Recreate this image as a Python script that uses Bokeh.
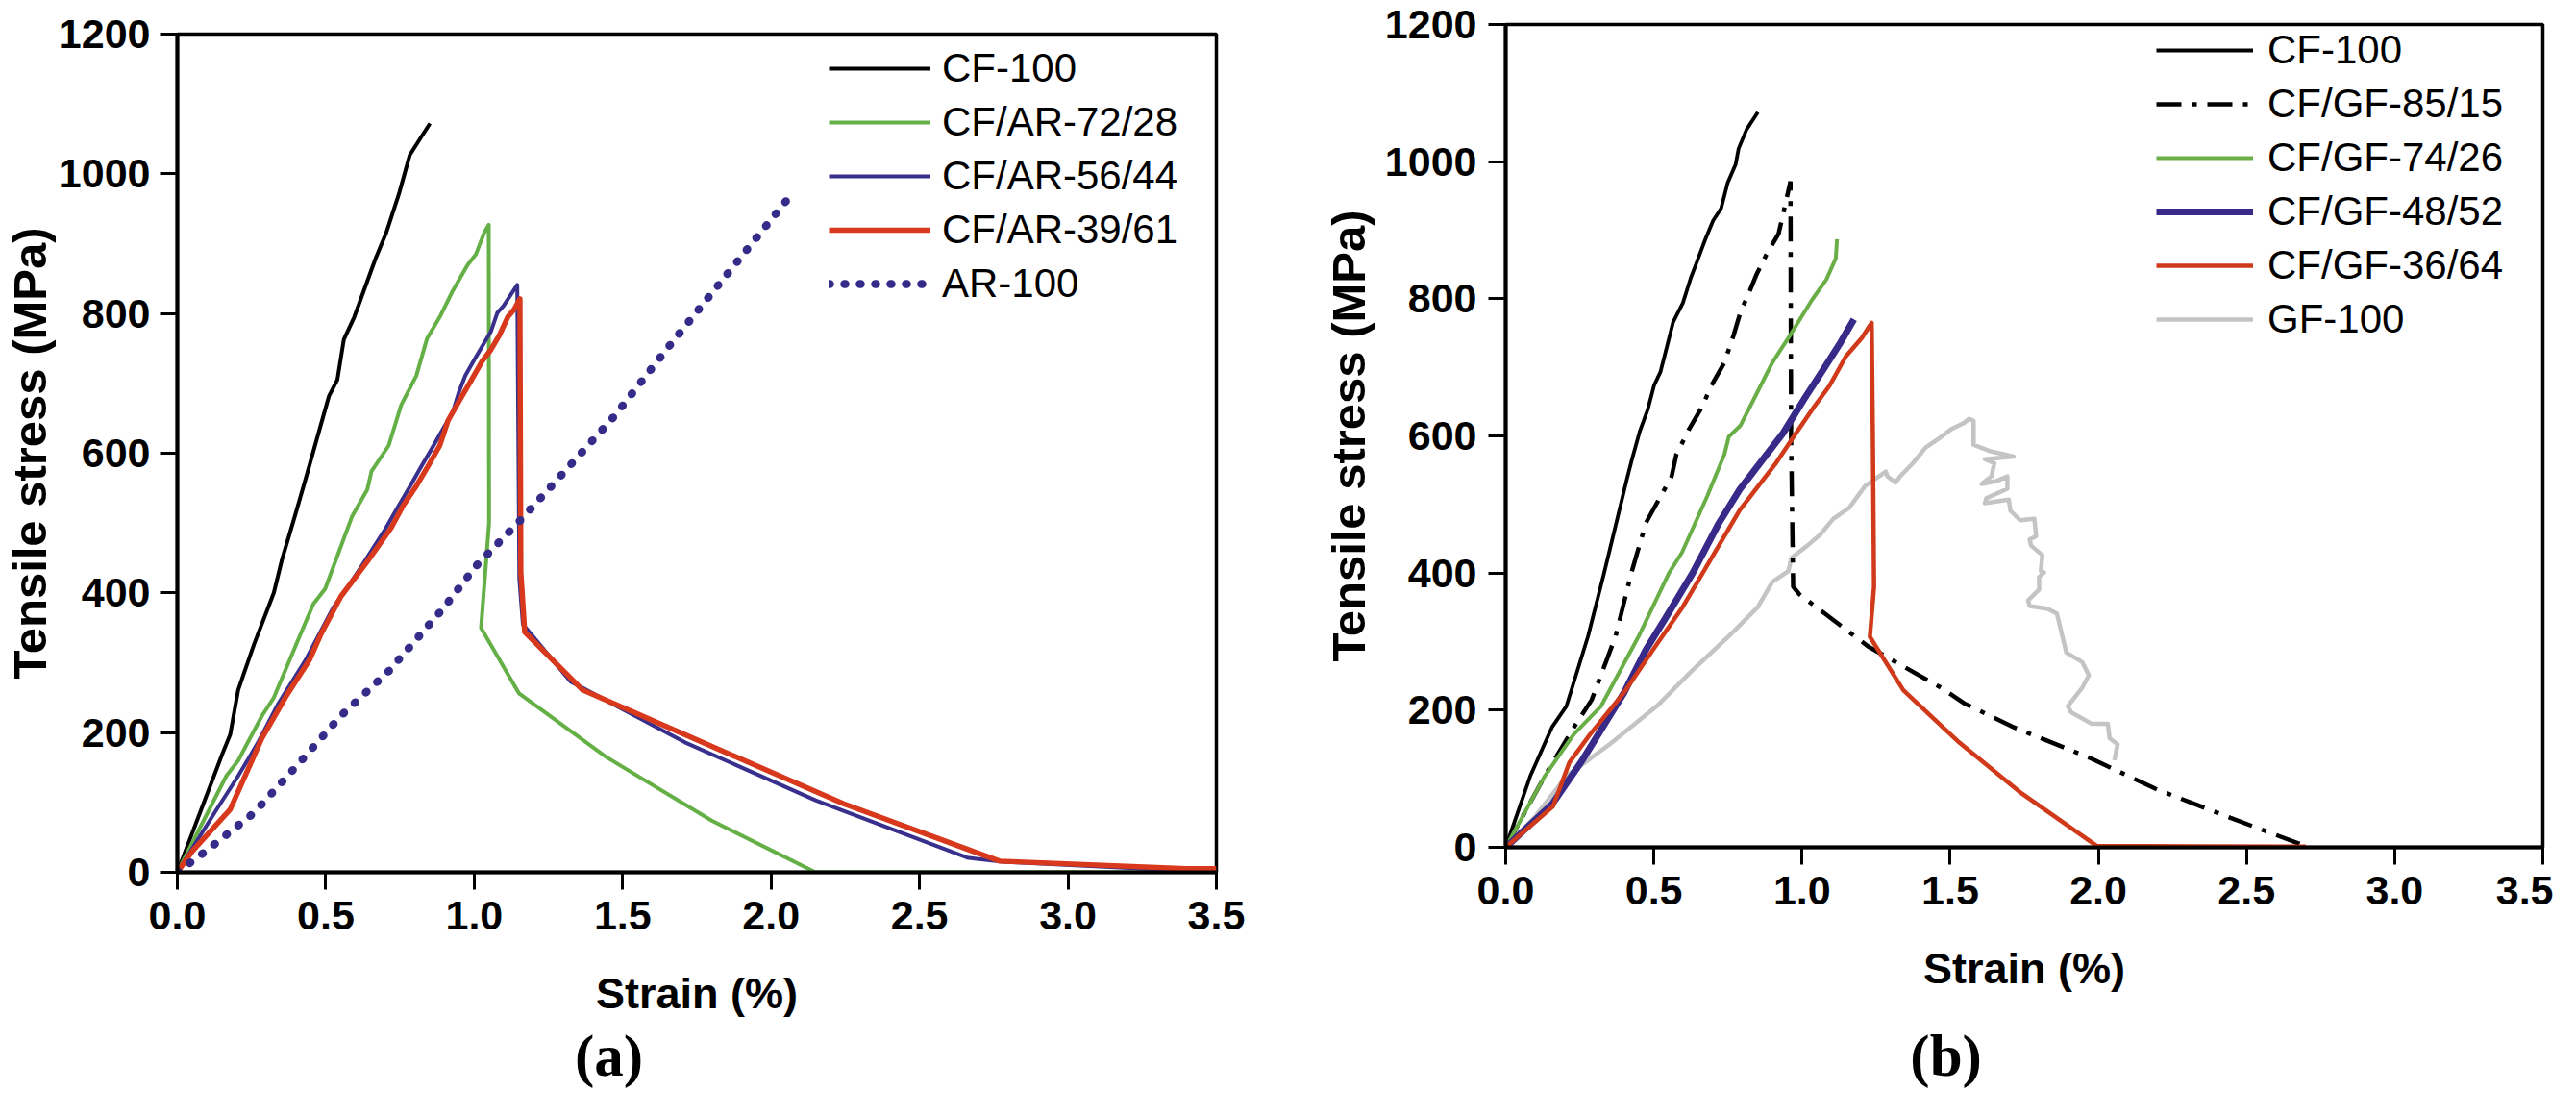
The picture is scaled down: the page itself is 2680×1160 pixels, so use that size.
from bokeh.plotting import figure
from bokeh.models import Range1d, FixedTicker, PrintfTickFormatter, Legend, LegendItem, LinearAxis
from bokeh.layouts import row
from bokeh.embed import file_html
from bokeh.resources import INLINE

# ---------------- data: panel (a) ----------------
x_ticks = [0.0, 0.5, 1.0, 1.5, 2.0, 2.5, 3.0, 3.5]
y_ticks = [0, 200, 400, 600, 800, 1000, 1200]

a_labels = ["CF-100", "CF/AR-72/28", "CF/AR-56/44", "CF/AR-39/61", "AR-100"]

a_cf100_x = [0, 0.152, 0.178, 0.205, 0.258, 0.325, 0.352, 0.396, 0.432, 0.467, 0.511, 0.539, 0.561,
             0.596, 0.632, 0.668, 0.704, 0.747, 0.766, 0.783, 0.819, 0.851]
a_cf100_y = [0, 170, 197, 261, 326, 400, 447, 510, 563, 616, 682, 705, 763,
             795, 837, 879, 916, 972, 1001, 1027, 1051, 1072]

a_ar7228_x = [0, 0.165, 0.205, 0.285, 0.325, 0.405, 0.458, 0.498, 0.589, 0.640, 0.654, 0.712, 0.754,
              0.805, 0.841, 0.884, 0.927, 0.977, 1.006, 1.034, 1.049, 1.050, 1.023, 1.151, 1.445, 1.80,
              2.15, 3.5]
a_ar7228_y = [0, 138, 160, 224, 250, 331, 384, 406, 510, 548, 574, 611, 669,
              711, 764, 795, 832, 869, 885, 916, 927, 500, 350, 256, 165, 74,
              0, 0]

a_ar5644_x = [0, 0.125, 0.205, 0.272, 0.338, 0.432, 0.525, 0.578, 0.611, 0.697, 0.740, 0.783, 0.819,
              0.855, 0.898, 0.927, 0.948, 0.970, 0.998, 1.027, 1.056, 1.078, 1.099, 1.128, 1.145,
              1.152, 1.164, 1.325, 1.71, 2.15, 2.66, 2.78, 3.5]
a_ar5644_y = [0, 85, 138, 186, 240, 304, 379, 411, 432, 489, 521, 552, 579,
              605, 637, 658, 687, 711, 732, 753, 774, 801, 811, 830, 841,
              420, 355, 273, 186, 103, 21, 15, 0]

a_ar3961_x = [0, 0.05, 0.178, 0.285, 0.365, 0.445, 0.485, 0.551, 0.64, 0.72, 0.762, 0.805, 0.848,
              0.884, 0.912, 0.955, 0.984, 1.027, 1.056, 1.085, 1.113, 1.135, 1.154, 1.157, 1.17,
              1.365, 2.245, 2.77, 3.4, 3.5]
a_ar3961_y = [0, 30, 90, 192, 251, 304, 342, 395, 445, 493, 526, 553, 584,
              611, 647, 679, 700, 732, 748, 769, 795, 806, 821, 430, 344,
              261, 98, 16, 5, 5]

a_ar100_x = [0, 0.098, 0.258, 0.418, 0.551, 0.712, 0.898, 1.005, 1.151, 1.271, 1.472, 1.656, 2.06]
a_ar100_y = [0, 31, 85, 160, 224, 288, 379, 438, 502, 558, 653, 753, 966]

# ---------------- data: panel (b) ----------------
b_labels = ["CF-100", "CF/GF-85/15", "CF/GF-74/26", "CF/GF-48/52", "CF/GF-36/64", "GF-100"]

b_cf100_x = [0, 0.083, 0.156, 0.205, 0.278, 0.332, 0.409, 0.425, 0.452, 0.479, 0.501, 0.522, 0.544,
             0.565, 0.598, 0.625, 0.641, 0.673, 0.700, 0.727, 0.749, 0.776, 0.786, 0.813, 0.851]
b_cf100_y = [0, 104, 175, 206, 308, 400, 537, 564, 606, 638, 674, 693, 730,
             766, 794, 831, 849, 886, 914, 932, 969, 996, 1019, 1047, 1072]

b_8515_x = [0, 0.132, 0.23, 0.29, 0.371, 0.424, 0.473, 0.560, 0.576, 0.619, 0.662, 0.695, 0.738,
            0.770, 0.792, 0.824, 0.846, 0.878, 0.921, 0.961, 0.963, 0.970, 0.991, 1.223, 1.472,
            1.547, 1.715, 1.968, 2.20, 2.446, 2.71]
b_8515_y = [0, 104, 175, 215, 308, 400, 473, 541, 573, 610, 642, 674, 707,
            748, 780, 812, 835, 863, 895, 971, 600, 380, 369, 293, 232,
            210, 175, 131, 84, 43, 0]

b_7426_x = [0, 0.132, 0.230, 0.322, 0.449, 0.551, 0.595, 0.680, 0.738, 0.753, 0.792, 0.846, 0.900,
            0.960, 1.033, 1.082, 1.114, 1.118]
b_7426_y = [0, 104, 165, 206, 308, 400, 430, 512, 573, 599, 615, 661, 707,
            747, 798, 828, 859, 887]

b_4852_x = [0, 0.157, 0.254, 0.327, 0.400, 0.473, 0.546, 0.631, 0.717, 0.790, 0.863, 0.936, 1.009,
            1.072, 1.131, 1.175]
b_4852_y = [0, 63, 124, 175, 226, 288, 339, 400, 471, 522, 563, 604, 655,
            697, 737, 770]

b_3664_x = [0, 0.16, 0.215, 0.285, 0.400, 0.497, 0.595, 0.692, 0.790, 0.910, 0.975, 1.040, 1.094,
            1.148, 1.202, 1.235, 1.239, 1.243, 1.229, 1.342, 1.525, 1.74, 1.995, 2.7]
b_3664_y = [0, 60, 124, 165, 226, 288, 349, 420, 492, 559, 601, 642, 674,
            716, 743, 765, 600, 380, 307, 229, 155, 79, 2, 1]

b_gf100_x = [0, 0.1, 0.205, 0.35, 0.51, 0.63, 0.753, 0.85, 0.900, 0.954, 0.964, 1.018, 1.061, 1.105,
             1.159, 1.213, 1.283, 1.288, 1.315, 1.331, 1.374, 1.417, 1.461, 1.504, 1.547, 1.563,
             1.579, 1.579, 1.633, 1.714, 1.617, 1.649, 1.639, 1.606, 1.655, 1.693, 1.693, 1.622,
             1.617, 1.698, 1.703, 1.736, 1.784, 1.790, 1.768, 1.773, 1.811, 1.806, 1.817, 1.800,
             1.800, 1.763, 1.768, 1.827, 1.860, 1.892, 1.946, 1.968, 1.946, 1.897, 1.908, 1.978,
             2.032, 2.038, 2.065, 2.054]
b_gf100_y = [0, 45, 104, 150, 206, 258, 308, 350, 387, 403, 422, 440, 456, 479,
             495, 527, 548, 541, 532, 541, 560, 583, 596, 610, 619, 625,
             622, 587, 578, 570, 566, 560, 541, 530, 534, 541, 523, 509,
             502, 507, 491, 477, 479, 454, 449, 440, 426, 403, 401, 394,
             376, 360, 352, 348, 341, 284, 270, 251, 233, 206, 197, 180,
             180, 159, 150, 127]

FONT = "Liberation Sans"
FIG_H = 1144


def make_fig(width, bl, br, bt, bb, caption, cap_range_end, cap_standoff, tick_standoff,
             title_standoff):
    p = figure(width=width, height=FIG_H, x_range=Range1d(0, 3.5), y_range=Range1d(0, 1200),
               output_backend="svg", toolbar_location=None,
               min_border_left=bl, min_border_right=br, min_border_top=bt, min_border_bottom=bb)
    if "frame_align" in p.properties():
        p.frame_align = False
    p.grid.visible = False
    p.background_fill_color = "white"
    p.border_fill_color = "white"
    p.outline_line_color = "black"
    p.outline_line_width = 3.5
    p.outline_line_alpha = 1.0

    p.xaxis.ticker = FixedTicker(ticks=x_ticks)
    p.xaxis.formatter = PrintfTickFormatter(format="%.1f")
    p.yaxis.ticker = FixedTicker(ticks=y_ticks)
    p.yaxis.formatter = PrintfTickFormatter(format="%d")
    for ax in (p.xaxis, p.yaxis):
        ax.axis_line_width = 4
        ax.axis_line_color = "black"
        ax.major_tick_line_width = 3
        ax.major_tick_line_color = "black"
        ax.major_tick_out = 18
        ax.major_tick_in = 0
        ax.minor_tick_line_color = None
        ax.major_label_text_font = FONT
        ax.major_label_text_font_style = "bold"
        ax.major_label_text_font_size = "43px"
        ax.major_label_text_color = "black"
        ax.axis_label_text_font = FONT
        ax.axis_label_text_font_style = "bold"
        ax.axis_label_text_color = "black"
    p.xaxis.axis_label = "Strain (%)"
    p.xaxis.axis_label_text_font_size = "45px"
    p.xaxis.major_label_standoff = 12
    p.xaxis.axis_label_standoff = 38
    p.yaxis.axis_label = "Tensile stress (MPa)"
    p.yaxis.axis_label_text_font_size = "49px"
    p.yaxis.major_label_standoff = tick_standoff
    p.yaxis.axis_label_standoff = title_standoff

    # panel caption "(a)" / "(b)" below the x-axis title
    p.extra_x_ranges = {"cap": Range1d(0, cap_range_end)}
    cap = LinearAxis(x_range_name="cap", ticker=FixedTicker(ticks=[1]),
                     major_label_overrides={1: caption})
    cap.axis_line_color = None
    cap.major_tick_line_color = None
    cap.minor_tick_line_color = None
    cap.major_tick_out = 0
    cap.major_tick_in = 0
    cap.minor_tick_out = 0
    cap.minor_tick_in = 0
    cap.major_label_standoff = cap_standoff
    cap.major_label_text_font = "Liberation Serif"
    cap.major_label_text_font_style = "bold"
    cap.major_label_text_font_size = "61px"
    cap.major_label_text_color = "black"
    p.add_layout(cap, "below")
    return p


def style_legend(p, items, loc, glyph_w, standoff):
    lg = Legend(items=items, location=loc, glyph_width=glyph_w, glyph_height=48,
                label_height=48, label_standoff=standoff, spacing=8, padding=0, margin=0,
                border_line_color=None, background_fill_alpha=0,
                label_text_font=FONT, label_text_font_size="42px", label_text_color="black")
    p.add_layout(lg)


# ---------------- panel (a) ----------------
pa = make_fig(1372, 177, 107, 35, FIG_H - 35 - 872, "(a)", 1088 / 452, 3, 10, 0)
ra1 = pa.line(a_cf100_x, a_cf100_y, line_color="black", line_width=4, line_join="round")
ra2 = pa.line(a_ar7228_x, a_ar7228_y, line_color="#64b046", line_width=4, line_join="round")
ra3 = pa.line(a_ar5644_x, a_ar5644_y, line_color="#38308c", line_width=4, line_join="round")
ra4 = pa.line(a_ar3961_x, a_ar3961_y, line_color="#d8391d", line_width=5.5, line_join="round")
ra5 = pa.line(a_ar100_x, a_ar100_y, line_color="#352c8a", line_width=8.5, line_dash="1 15",
              line_cap="round")
style_legend(pa, [LegendItem(label=l, renderers=[r]) for l, r in
                  zip(a_labels, [ra1, ra2, ra3, ra4, ra5])], (678, 588), 106, 12)

# ---------------- panel (b) ----------------
pb = make_fig(1284, 192, 11, 25, FIG_H - 25 - 856, "(b)", 1081 / 459, 29, 12, 8)
rb6 = pb.line(b_gf100_x, b_gf100_y, line_color="#c4c4c4", line_width=4.5, line_join="round")
rb1 = pb.line(b_cf100_x, b_cf100_y, line_color="black", line_width=3.8, line_join="round")
rb2 = pb.line(b_8515_x, b_8515_y, line_color="black", line_width=4.5, line_dash="26 11 5 11")
rb3 = pb.line(b_7426_x, b_7426_y, line_color="#6aae47", line_width=4, line_join="round")
rb4 = pb.line(b_4852_x, b_4852_y, line_color="#372a88", line_width=7, line_join="round")
rb5 = pb.line(b_3664_x, b_3664_y, line_color="#d03a1a", line_width=4.5, line_join="round")
style_legend(pb, [LegendItem(label=l, renderers=[r]) for l, r in
                  zip(b_labels, [rb1, rb2, rb3, rb4, rb5, rb6])], (677, 525), 101, 15)

layout = row(pa, pb)
open("out.html", "w").write(file_html(layout, INLINE))
